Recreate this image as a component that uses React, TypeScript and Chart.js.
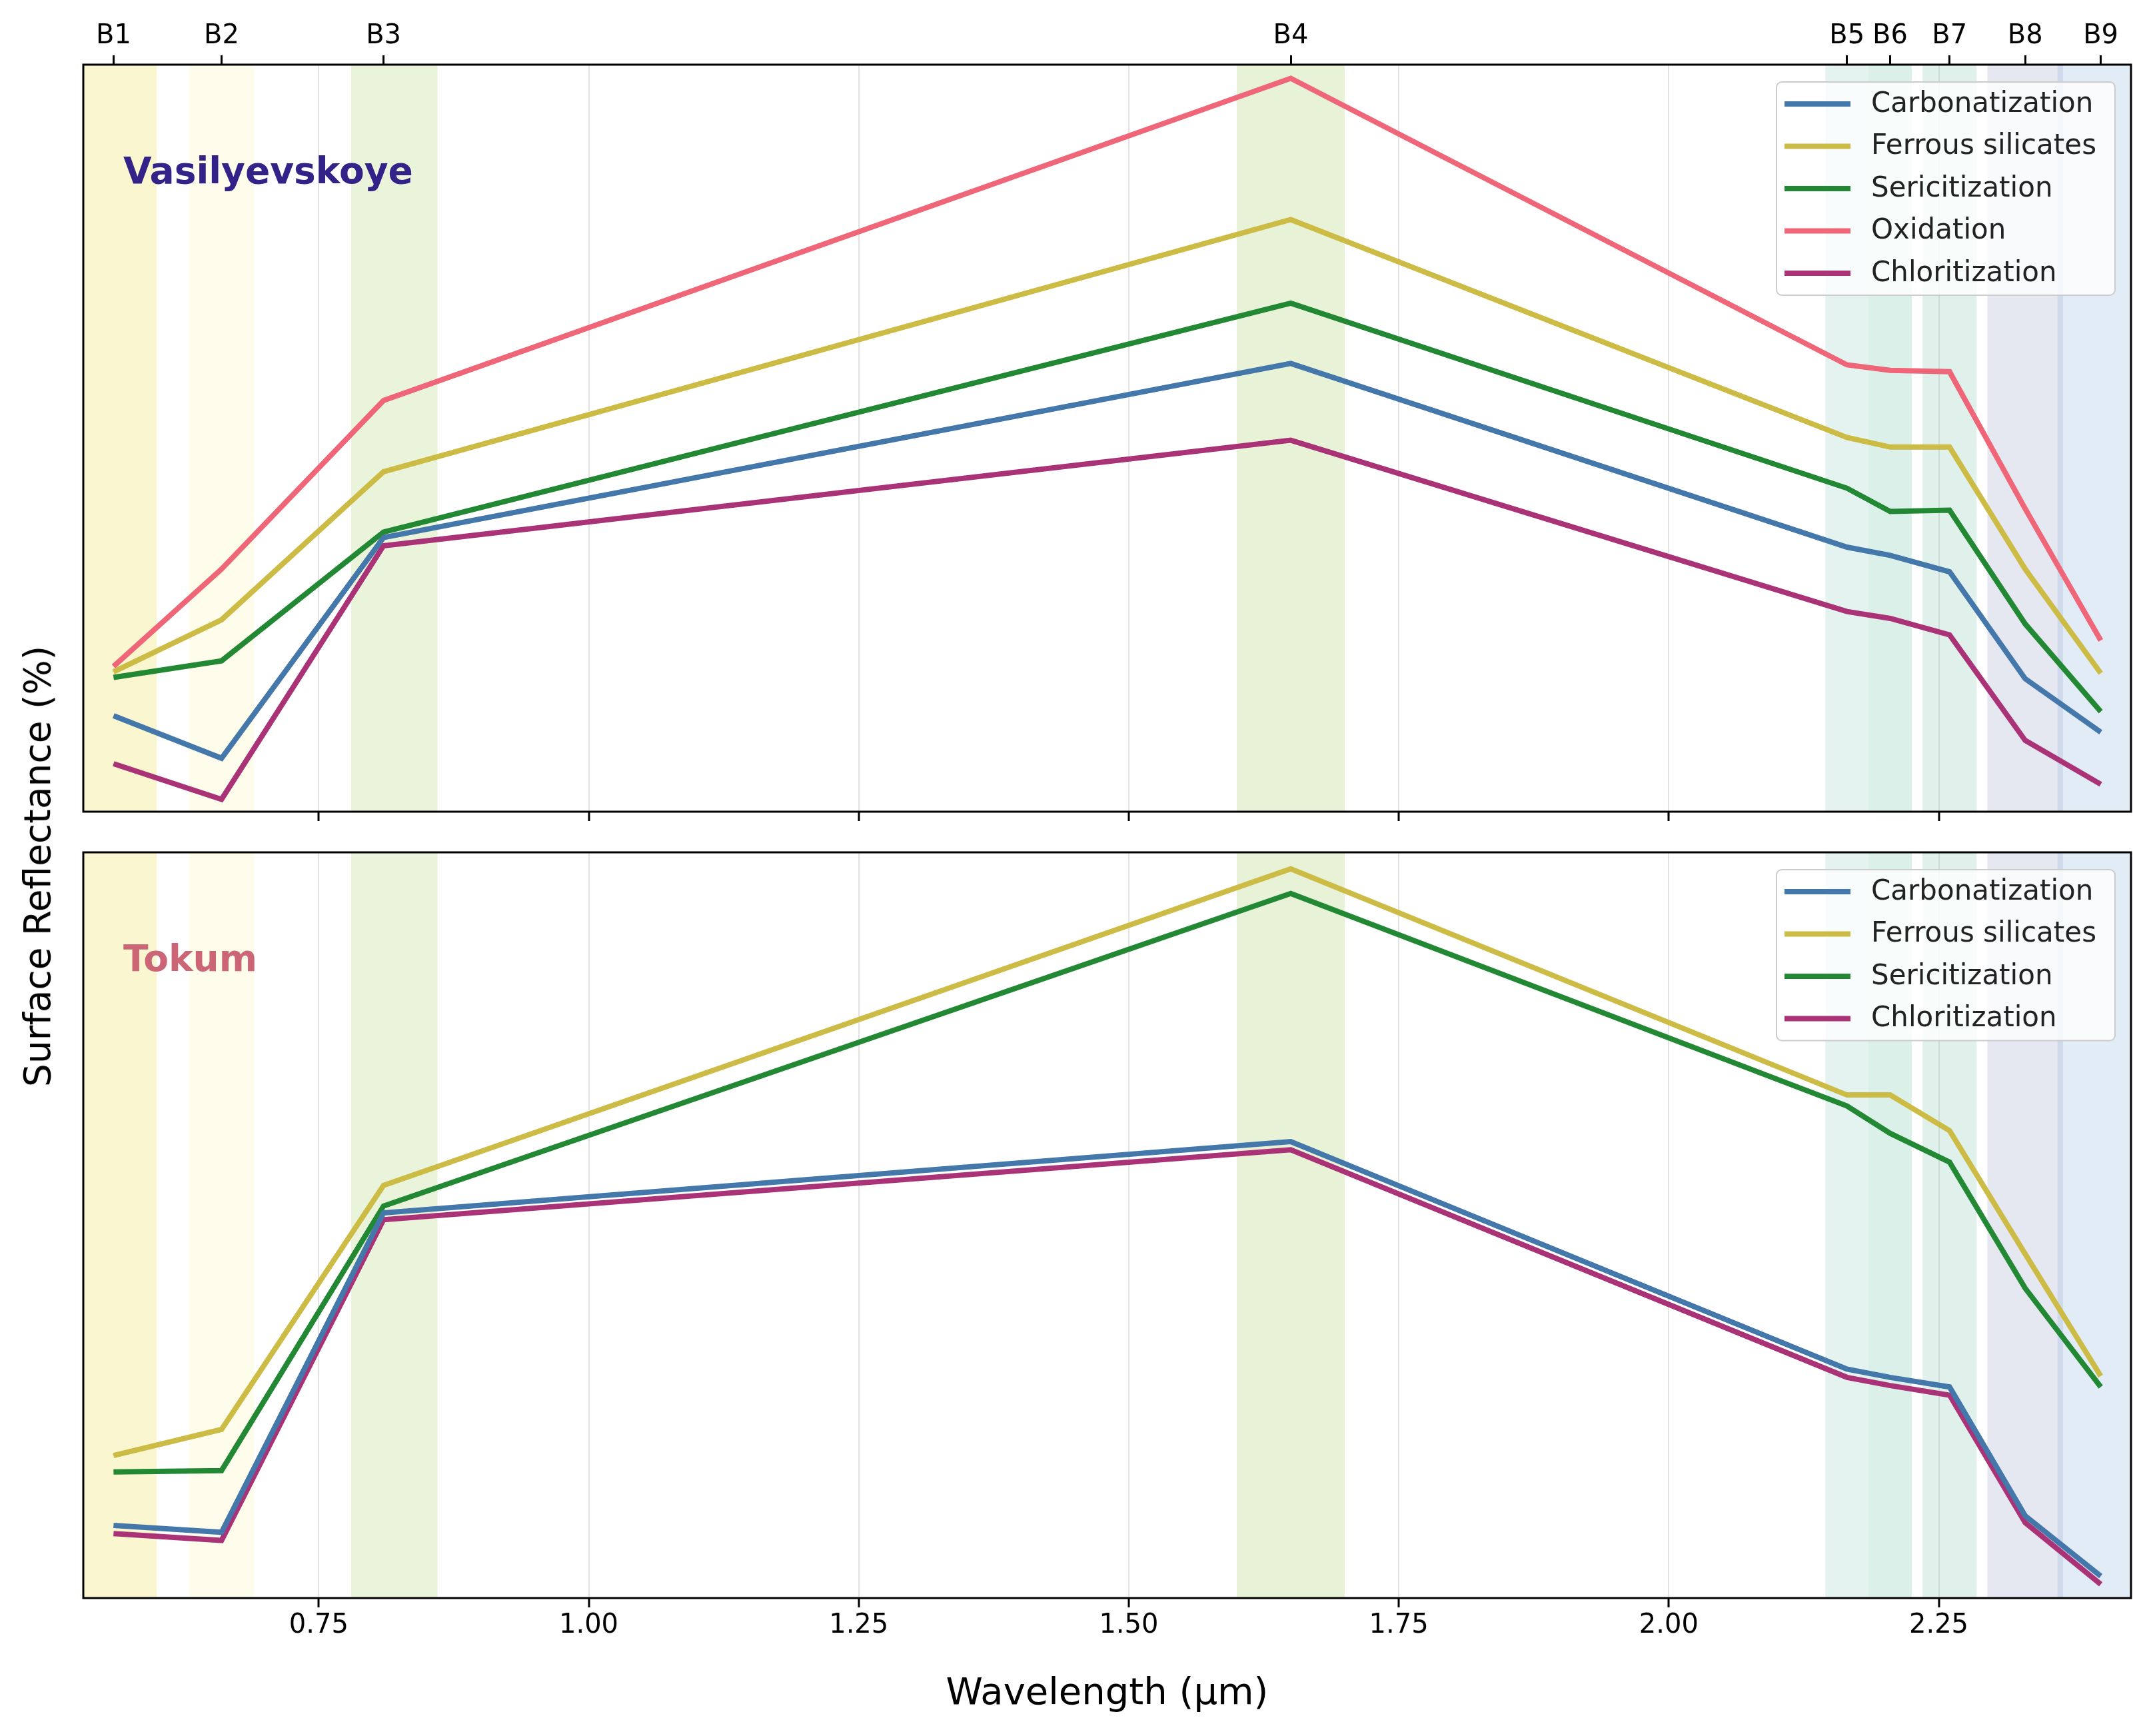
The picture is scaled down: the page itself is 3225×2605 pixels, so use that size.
import React, { useEffect, useRef } from "react";
import { Chart, registerables } from "chart.js";
Chart.register(...registerables);

const wavelengths = [0.56, 0.66, 0.81, 1.65, 2.165, 2.205, 2.26, 2.33, 2.40];
const bandLabels = ["B1", "B2", "B3", "B4", "B5", "B6", "B7", "B8", "B9"];
const xTicks = [0.75, 1.0, 1.25, 1.5, 1.75, 2.0, 2.25];

const vasCarbonatization = [70, 39, 200, 327, 193, 187, 175, 97, 58];
const vasFerrous = [102, 140, 248, 432, 273, 266, 266, 177, 101];
const vasSericitization = [98, 110, 204, 371, 236, 219, 220, 137, 73];
const vasOxidation = [106, 177, 300, 535, 326, 322, 321, 221, 125];
const vasChloritization = [35, 9, 194, 271, 146, 141, 129, 52, 20];

const tokCarbonatization = [53, 48, 281, 333, 167, 161, 154, 60, 16];
const tokFerrous = [104, 123, 301, 532, 367, 367, 341, 251, 162];
const tokSericitization = [92, 93, 286, 514, 359, 339, 318, 226, 154];
const tokChloritization = [47, 42, 276, 327, 161, 155, 148, 55, 10];

const bands = [
  [0.52, 0.60, "rgba(240,230,120,0.35)"],
  [0.63, 0.69, "rgba(250,240,150,0.2)"],
  [0.78, 0.86, "rgba(170,210,110,0.25)"],
  [1.60, 1.70, "rgba(170,210,110,0.28)"],
  [2.145, 2.185, "rgba(130,200,180,0.22)"],
  [2.185, 2.225, "rgba(130,200,180,0.28)"],
  [2.235, 2.285, "rgba(130,200,180,0.25)"],
  [2.295, 2.365, "rgba(150,160,200,0.25)"],
  [2.36, 2.43, "rgba(140,180,220,0.25)"],
] as const;

const C = { blue: "#4477AA", yellow: "#CCBB44", green: "#228833", red: "#EE6677", purple: "#AA3377" };
const FONT = "'DejaVu Sans', sans-serif";
const XMIN = 0.532, XMAX = 2.428;

function ds(label: string, vals: number[], color: string) {
  return {
    label, borderColor: color, backgroundColor: color, borderWidth: 8, pointRadius: 0,
    data: vals.map((v, i) => ({ x: wavelengths[i], y: v })), tension: 0,
  };
}

function makePlugin(title: string, titleColor: string) {
  return {
    id: "deco",
    beforeDatasetsDraw(chart: any) {
      const { ctx, chartArea: a, scales } = chart;
      const x = scales.x;
      ctx.save();
      for (const [s, e, col] of bands) {
        const x0 = Math.max(a.left, x.getPixelForValue(s));
        const x1 = Math.min(a.right, x.getPixelForValue(e));
        ctx.fillStyle = col;
        ctx.fillRect(x0, a.top, x1 - x0, a.bottom - a.top);
      }
      ctx.restore();
    },
    afterDraw(chart: any) {
      const { ctx, chartArea: a } = chart;
      ctx.save();
      ctx.strokeStyle = "#000"; ctx.lineWidth = 3;
      ctx.strokeRect(a.left, a.top, a.right - a.left, a.bottom - a.top);
      ctx.font = `bold 55px ${FONT}`; ctx.fillStyle = titleColor;
      ctx.textBaseline = "middle"; ctx.textAlign = "left";
      ctx.fillText(title, a.left + 60, a.top + 164);
      const dsets = chart.data.datasets;
      const w = 508, h = 66 + (dsets.length - 1) * 63.5;
      const bx = a.right - 24 - w, by = a.top + 26;
      ctx.fillStyle = "rgba(255,255,255,0.8)";
      ctx.strokeStyle = "#cccccc"; ctx.lineWidth = 2;
      ctx.beginPath(); (ctx as any).roundRect(bx, by, w, h, 8); ctx.fill(); ctx.stroke();
      ctx.font = `42px ${FONT}`;
      dsets.forEach((d: any, i: number) => {
        const y = by + 33 + i * 63.5;
        ctx.strokeStyle = d.borderColor; ctx.lineWidth = 8;
        ctx.beginPath(); ctx.moveTo(bx + 12, y); ctx.lineTo(bx + 111, y); ctx.stroke();
        ctx.fillStyle = "#222"; ctx.fillText(d.label, bx + 142, y + 1);
      });
      ctx.restore();
    },
  };
}

function useChart(ref: any, cfg: () => any) {
  useEffect(() => {
    const c = new Chart(ref.current, cfg());
    return () => c.destroy();
  }, []);
}

const tickFont = { family: FONT, size: 40 };

export default function App() {
  const r1 = useRef<HTMLCanvasElement>(null);
  const r2 = useRef<HTMLCanvasElement>(null);

  useChart(r1, () => ({
    type: "line",
    data: { datasets: [
      ds("Carbonatization", vasCarbonatization, C.blue),
      ds("Ferrous silicates", vasFerrous, C.yellow),
      ds("Sericitization", vasSericitization, C.green),
      ds("Oxidation", vasOxidation, C.red),
      ds("Chloritization", vasChloritization, C.purple),
    ] },
    options: {
      animation: false, responsive: false, maintainAspectRatio: false,
      layout: { padding: { left: 125, right: 27, top: 0, bottom: 0 } },
      plugins: { legend: { display: false }, tooltip: { enabled: false } },
      scales: {
        x: {
          type: "linear", position: "bottom", min: XMIN, max: XMAX,
          afterBuildTicks: (ax: any) => { ax.ticks = xTicks.map((v) => ({ value: v })); },
          afterFit: (ax: any) => { ax.height = 22; },
          ticks: { display: false },
          grid: { color: "#e3e3e3", lineWidth: 2, tickLength: 14, tickColor: "#000", tickWidth: 3 },
          border: { display: false },
        },
        xt: {
          type: "linear", position: "top", min: XMIN, max: XMAX,
          afterBuildTicks: (ax: any) => { ax.ticks = wavelengths.map((v) => ({ value: v })); },
          afterFit: (ax: any) => { ax.height = 97; },
          ticks: { font: tickFont, color: "#000", maxRotation: 0, autoSkip: false, padding: 4,
            callback: (v: any) => bandLabels[wavelengths.indexOf(v)] ?? "" },
          grid: { drawOnChartArea: false, tickLength: 14, tickColor: "#000", tickWidth: 3 },
          border: { display: false },
        },
        y: { display: false, min: 0, max: 545 },
      },
    },
    plugins: [makePlugin("Vasilyevskoye", "#332288")],
  }));

  useChart(r2, () => ({
    type: "line",
    data: { datasets: [
      ds("Carbonatization", tokCarbonatization, C.blue),
      ds("Ferrous silicates", tokFerrous, C.yellow),
      ds("Sericitization", tokSericitization, C.green),
      ds("Chloritization", tokChloritization, C.purple),
    ] },
    options: {
      animation: false, responsive: false, maintainAspectRatio: false,
      layout: { padding: { left: 125, right: 27, top: 39, bottom: 0 } },
      plugins: { legend: { display: false }, tooltip: { enabled: false } },
      scales: {
        x: {
          type: "linear", position: "bottom", min: XMIN, max: XMAX,
          afterBuildTicks: (ax: any) => { ax.ticks = xTicks.map((v) => ({ value: v })); },
          afterFit: (ax: any) => { ax.height = 182; },
          ticks: { font: tickFont, color: "#000", maxRotation: 0, autoSkip: false, padding: 4,
            callback: (v: any) => Number(v).toFixed(2) },
          title: { display: true, text: "Wavelength (µm)", font: { family: FONT, size: 56 }, color: "#000",
            padding: { top: 6, bottom: 4 } },
          grid: { color: "#e3e3e3", lineWidth: 2, tickLength: 14, tickColor: "#000", tickWidth: 3 },
          border: { display: false },
        },
        y: { display: false, min: 0, max: 544 },
      },
    },
    plugins: [makePlugin("Tokum", "#CC6677")],
  }));

  return (
    <div style={{ position: "absolute", left: 0, top: 0, width: 3225, height: 2605, background: "#fff" }}>
      <canvas ref={r1} width={3225} height={1240} style={{ position: "absolute", left: 0, top: 0, width: 3225, height: 1240 }} />
      <canvas ref={r2} width={3225} height={1340} style={{ position: "absolute", left: 0, top: 1240, width: 3225, height: 1340 }} />
      <div style={{ position: "absolute", left: 56, top: 1300, transform: "translate(-50%,-50%) rotate(-90deg)",
        fontFamily: FONT, fontSize: 55, whiteSpace: "nowrap", color: "#000" }}>Surface Reflectance (%)</div>
    </div>
  );
}
